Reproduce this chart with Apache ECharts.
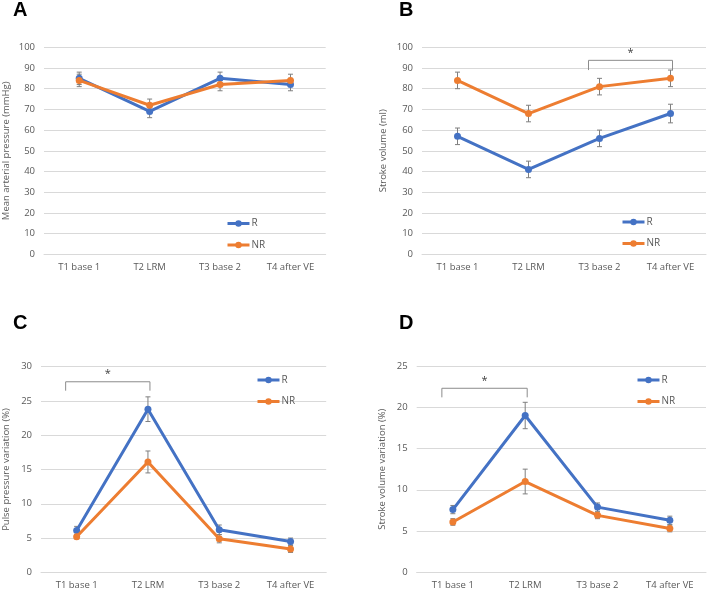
<!DOCTYPE html>
<html>
<head>
<meta charset="utf-8">
<script src="https://cdn.jsdelivr.net/npm/echarts@6/dist/echarts.min.js"></script>
<style>
  html, body { margin: 0; padding: 0; background: #fff; }
  #chart { width: 708px; height: 591px; }
</style>
</head>
<body>
<div id="chart"></div>
<script>
// categories shared by all four panels
const categories = ['T1 base 1', 'T2 LRM', 'T3 base 2', 'T4 after VE'];

// A - mean arterial pressure (mmHg)
const mapR = [85, 69, 85, 82];
const mapRErr = [3, 3, 3, 3];
const mapNR = [84, 72, 82, 84];
const mapNRErr = [3, 3, 3, 3];

// B - stroke volume (ml)
const svR = [57, 41, 56, 68];
const svRErr = [4, 4, 4, 4.5];
const svNR = [84, 68, 81, 85];
const svNRErr = [4, 4, 4, 4];

// C - pulse pressure variation (%)
const ppvR = [6.1, 23.8, 6.2, 4.5];
const ppvRErr = [0.6, 1.8, 0.7, 0.5];
const ppvNR = [5.2, 16.1, 4.9, 3.4];
const ppvNRErr = [0.3, 1.6, 0.6, 0.5];

// D - stroke volume variation (%)
const svvR = [7.6, 19.0, 7.9, 6.3];
const svvRErr = [0.5, 1.6, 0.5, 0.5];
const svvNR = [6.1, 11.0, 6.9, 5.3];
const svvNRErr = [0.4, 1.5, 0.4, 0.4];

// significance brackets: [from category, to category, top value, foot value]
const sigB = [2, 3, 93.7, 89];
const sigC = [0, 1, 27.8, 26.5];
const sigD = [0, 1, 22.3, 21.2];

const BLUE = '#4472C4';
const ORANGE = '#ED7D31';
const TXT = '#595959';
const FONT = '"Open Sans", "Liberation Sans", sans-serif';

const panels = [
  { letter: 'A', grid: { left: 40.7, top: 47.3, width: 285, height: 207 },
    yName: 'Mean arterial pressure (mmHg)', max: 100, interval: 10, nameGap: 33,
    r: mapR, rErr: mapRErr, nr: mapNR, nrErr: mapNRErr, sig: null,
    title: { left: 13, top: 0 }, legend: { left: 226, top: 218.5 } },
  { letter: 'B', grid: { left: 422, top: 47.3, width: 284, height: 207 },
    yName: 'Stroke volume (ml)', max: 100, interval: 10, nameGap: 34,
    r: svR, rErr: svRErr, nr: svNR, nrErr: svNRErr, sig: sigB,
    title: { left: 399, top: 0 }, legend: { left: 621, top: 217 } },
  { letter: 'C', grid: { left: 37.7, top: 366.7, width: 288.5, height: 205.6 },
    yName: 'Pulse pressure variation (%)', max: 30, interval: 5, nameGap: 30,
    r: ppvR, rErr: ppvRErr, nr: ppvNR, nrErr: ppvNRErr, sig: sigC,
    title: { left: 13, top: 313 }, legend: { left: 256, top: 375 } },
  { letter: 'D', grid: { left: 416.7, top: 366, width: 289.3, height: 206.3 },
    yName: 'Stroke volume variation (%)', max: 25, interval: 5, nameGap: 29,
    r: svvR, rErr: svvRErr, nr: svvNR, nrErr: svvNRErr, sig: sigD,
    title: { left: 399, top: 313 }, legend: { left: 636, top: 375 } }
];

function errorBars(params, api) {
  const x = api.value(0), y = api.value(1), e = api.value(2);
  const hi = api.coord([x, y + e]);
  const lo = api.coord([x, y - e]);
  const w = 2.5;
  const st = { stroke: '#7F7F7F', lineWidth: 1 };
  return {
    type: 'group',
    children: [
      { type: 'line', shape: { x1: hi[0], y1: hi[1], x2: lo[0], y2: lo[1] }, style: st },
      { type: 'line', shape: { x1: hi[0] - w, y1: hi[1], x2: hi[0] + w, y2: hi[1] }, style: st },
      { type: 'line', shape: { x1: lo[0] - w, y1: lo[1], x2: lo[0] + w, y2: lo[1] }, style: st }
    ]
  };
}

function bracket(params, api) {
  const a = api.coord([api.value(0), api.value(2)]);
  const b = api.coord([api.value(1), api.value(2)]);
  const foot = api.coord([api.value(0), api.value(3)]);
  const x0 = a[0] - 11, x1 = b[0] + 2;
  return {
    type: 'group',
    children: [
      { type: 'polyline',
        shape: { points: [[x0, foot[1]], [x0, a[1]], [x1, a[1]], [x1, foot[1]]] },
        style: { stroke: '#8C8C8C', lineWidth: 1, fill: null } },
      { type: 'text',
        style: { text: '*', x: (x0 + x1) / 2, y: a[1] - 2, align: 'center', verticalAlign: 'bottom',
                 fill: '#404040', font: '11px ' + FONT } }
    ]
  };
}

const option = {
  animation: false,
  backgroundColor: '#fff',
  title: [], grid: [], xAxis: [], yAxis: [], legend: [], series: []
};

panels.forEach((p, i) => {
  option.title.push({
    text: p.letter, left: p.title.left, top: p.title.top, padding: 0,
    textStyle: { fontFamily: 'Liberation Sans, Arial, sans-serif', fontWeight: 'bold', fontSize: 20, color: '#000' }
  });
  option.grid.push(Object.assign({ containLabel: false }, p.grid));
  option.xAxis.push({
    type: 'category', gridIndex: i, data: categories, boundaryGap: true,
    axisLine: { show: true, lineStyle: { color: '#D9D9D9', width: 1 } },
    axisTick: { show: false },
    axisLabel: { color: TXT, fontSize: 9.5, fontFamily: FONT, margin: 8, interval: 0 }
  });
  option.yAxis.push({
    type: 'value', gridIndex: i, min: 0, max: p.max, interval: p.interval,
    name: p.yName, nameLocation: 'middle', nameRotate: 90, nameGap: p.nameGap,
    nameTextStyle: { color: TXT, fontSize: 9.5, fontFamily: FONT },
    axisLine: { show: false }, axisTick: { show: false },
    axisLabel: { color: TXT, fontSize: 9.5, fontFamily: FONT, margin: 9 },
    splitLine: { lineStyle: { color: '#D9D9D9', width: 1 } }
  });
  option.legend.push({
    left: p.legend.left, top: p.legend.top, orient: 'vertical', padding: 0,
    itemWidth: 22, itemHeight: 8, itemGap: 11.5,
    data: ['R', 'NR'], selectedMode: false,
    lineStyle: { width: 3 },
    textStyle: { color: TXT, fontSize: 10, fontFamily: FONT, padding: [0, 0, 0, -3] }
  });
  const eb = (vals, errs) => vals.map((v, k) => [k, v, errs[k]]);
  option.series.push(
    { type: 'custom', xAxisIndex: i, yAxisIndex: i, renderItem: errorBars,
      data: eb(p.r, p.rErr), encode: { x: 0, y: 1 }, z: 1, silent: true },
    { type: 'custom', xAxisIndex: i, yAxisIndex: i, renderItem: errorBars,
      data: eb(p.nr, p.nrErr), encode: { x: 0, y: 1 }, z: 1, silent: true },
    { name: 'R', type: 'line', xAxisIndex: i, yAxisIndex: i, data: p.r,
      symbol: 'circle', symbolSize: 7, z: 3,
      lineStyle: { color: BLUE, width: 3 }, itemStyle: { color: BLUE } },
    { name: 'NR', type: 'line', xAxisIndex: i, yAxisIndex: i, data: p.nr,
      symbol: 'circle', symbolSize: 7, z: 4,
      lineStyle: { color: ORANGE, width: 3 }, itemStyle: { color: ORANGE } }
  );
  if (p.sig) {
    option.series.push({
      type: 'custom', xAxisIndex: i, yAxisIndex: i, renderItem: bracket,
      data: [p.sig], encode: { x: [0, 1], y: [2, 3] }, z: 5, silent: true
    });
  }
});

const chart = echarts.init(document.getElementById('chart'), null, { renderer: 'canvas' });
chart.setOption(option);
</script>
</body>
</html>
